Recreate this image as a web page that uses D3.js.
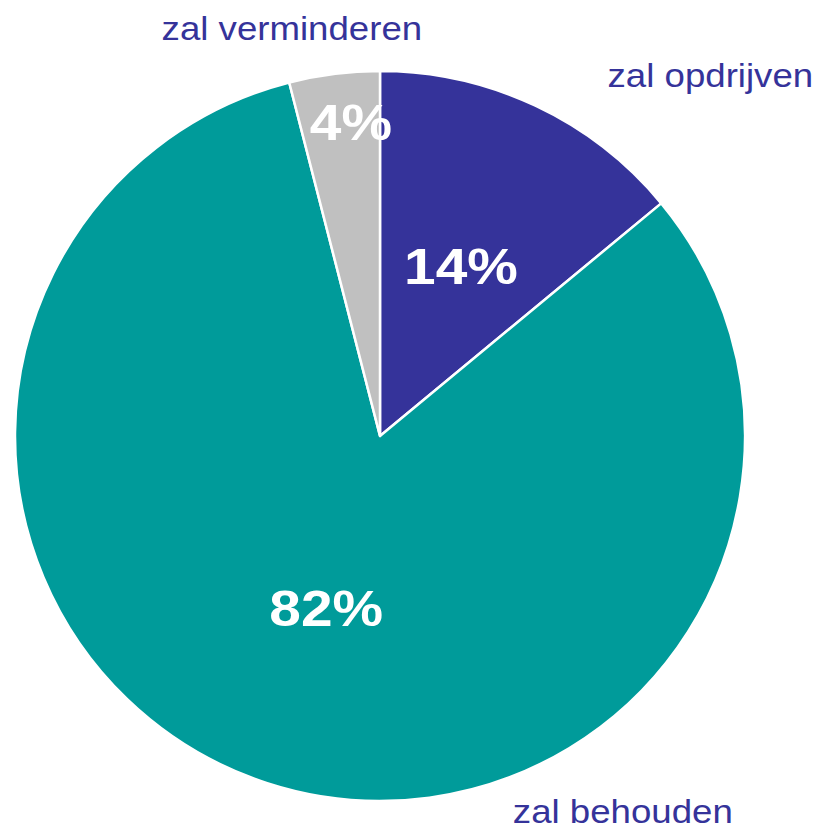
<!DOCTYPE html>
<html>
<head>
<meta charset="utf-8">
<script src="https://cdn.jsdelivr.net/npm/d3@7"></script>
<style>
  body { margin: 0; background: #fff; }
</style>
</head>
<body>
<div id="container"></div>
<script>
/* DATA */
const categories = ["zal opdrijven", "zal behouden", "zal verminderen"]
const values = [14, 82, 4]
const pctLabels = ["14%", "82%", "4%"]

/* LAYOUT */
const width = 820,
  height = 827,
  cx = 380,
  cy = 436,
  radius = 365

const colors = ["#35339A", "#009B9A", "#C0C0C0"]
// label anchors: angle in degrees clockwise from 12 o'clock, distance from centre
const pctAnchor = [
  { angle: 25.5, r: 188 },
  { angle: 197.3, r: 181 },
  { angle: -5.3, r: 315 }
]
const catAnchor = [
  { angle: 42.5, r: 489 },
  { angle: 147.1, r: 447 },
  { angle: -12.2, r: 417 }
]
const pctStretch = 1.16,
  catStretch = 1.11

const data = categories.map((c, i) => ({ cat: c, value: values[i], pct: pctLabels[i], i }))

const svg = d3.select("#container")
  .append("svg")
  .attr("width", width)
  .attr("height", height)

const g = svg.append("g")
  .attr("transform", `translate(${cx}, ${cy})`)

const pie = d3.pie()
  .sort(null)
  .value(d => d.value)

const arcs = pie(data)

const arcGen = d3.arc()
  .innerRadius(0)
  .outerRadius(radius)

const polar = a => {
  const t = a.angle * Math.PI / 180
  return [Math.sin(t) * a.r, -Math.cos(t) * a.r]
}

// SLICES
g.selectAll(".slice")
  .data(arcs)
  .join("path")
  .attr("class", "slice")
  .attr("d", arcGen)
  .attr("fill", d => colors[d.data.i])
  .attr("stroke", "#fff")
  .attr("stroke-width", 2.5)
  .attr("stroke-linejoin", "round")

// PERCENTAGES
g.selectAll(".pct")
  .data(arcs)
  .join("text")
  .attr("class", "pct")
  .attr("transform", d => {
    const [x, y] = polar(pctAnchor[d.data.i])
    return `translate(${x}, ${y}) scale(${pctStretch}, 1)`
  })
  .attr("text-anchor", "middle")
  .attr("dy", "0.36em")
  .attr("fill", "#fff")
  .style("font-family", "'Liberation Sans', Arial, sans-serif")
  .style("font-weight", "bold")
  .style("font-size", "49px")
  .text(d => d.data.pct)

// CATEGORY LABELS
g.selectAll(".cat")
  .data(arcs)
  .join("text")
  .attr("class", "cat")
  .attr("transform", d => {
    const [x, y] = polar(catAnchor[d.data.i])
    return `translate(${x}, ${y}) scale(${catStretch}, 1)`
  })
  .attr("text-anchor", "middle")
  .attr("dy", "0.36em")
  .attr("fill", "#35339A")
  .style("font-family", "'Liberation Sans', Arial, sans-serif")
  .style("font-size", "33px")
  .text(d => d.data.cat)
</script>
</body>
</html>
